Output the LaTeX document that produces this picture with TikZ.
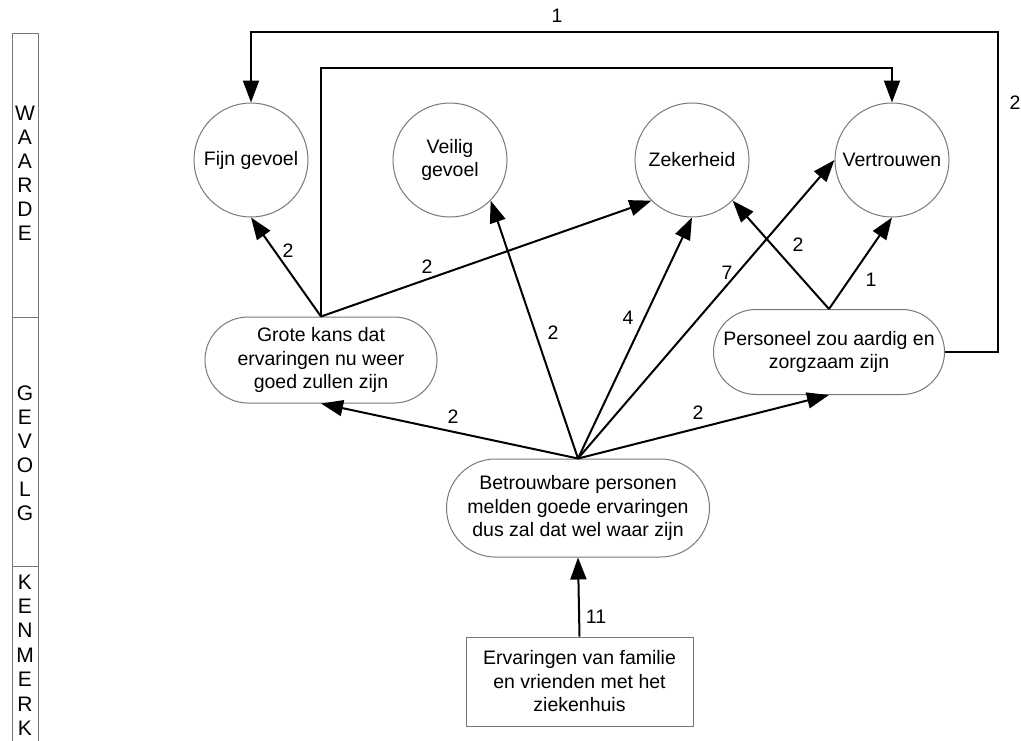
\documentclass[tikz,border=0pt]{standalone}
\usepackage{fontspec}
\setmainfont{Liberation Sans}
\usetikzlibrary{arrows.meta}
\definecolor{outline}{RGB}{120,120,120}
\begin{document}
\begin{tikzpicture}[x=1pt,y=-1pt,
  every node/.style={font=\fontsize{19.5}{23.5}\selectfont},
  value/.style={circle, draw=outline, line width=1pt, minimum size=114pt,
    inner sep=0pt, align=center},
  result/.style={rectangle, draw=outline, line width=1pt, rounded corners=43pt,
    minimum width=232pt, minimum height=86pt, inner sep=0pt, align=center},
  feature/.style={rectangle, draw=outline, line width=1pt,
    minimum width=227pt, minimum height=89pt, inner sep=0pt, align=center},
  link/.style={line width=2pt, -{Triangle[length=22pt,width=16pt]}},
  lbl/.style={inner sep=0pt},
  level/.style={align=center, inner sep=0pt, font=\fontsize{21}{24}\selectfont}]
\useasboundingbox (0,0) rectangle (1021,740);

% level column on the left
\draw[outline, line width=1pt] (12,33) rectangle (38,760);
\draw[outline, line width=1pt] (12,317) -- (38,317);
\draw[outline, line width=1pt] (12,566) -- (38,566);
\node[level] (waarde) at (25,173.5) {W\\A\\A\\R\\D\\E};
\node[level] (gevolg) at (25,453) {G\\E\\V\\O\\L\\G};
\node[level, font=\fontsize{21}{24.4}\selectfont] (kenmerk) at (25,655) {K\\E\\N\\M\\E\\R\\K};

% values
\node[value] (fijn)   at (251,160) {Fijn gevoel};
\node[value] (veilig) at (450,160) {Veilig\\gevoel};
\node[value] (zek)    at (692,160) {Zekerheid};
\node[value] (vert)   at (892,160) {Vertrouwen};

% consequences
\node[result] (grote) at (321,360) {Grote kans dat\\ervaringen nu weer\\goed zullen zijn};
\node[result, minimum width=231pt, minimum height=85pt, rounded corners=42.5pt]
  (pers) at (829,352) {Personeel zou aardig en\\zorgzaam zijn};
\node[result, minimum width=263pt, minimum height=98pt, rounded corners=49pt]
  (betr) at (578,508) {Betrouwbare personen\\melden goede ervaringen\\dus zal dat wel waar zijn};

% attribute
\node[feature] (erv) at (579.5,681.5) {Ervaringen van familie\\en vrienden met het\\ziekenhuis};

% connectors
\coordinate (rightbend) at (998,32);
\coordinate (upperbend) at (600,68);
\draw[link] (pers.east) -| (rightbend) -| (fijn.north);
\draw[link] (grote.north) |- (upperbend) -| (vert.north);
\draw[link] (grote.north) -- (fijn.south);
\draw[link] (grote.north) -- (zek.225);
\draw[link] (betr.north) -- (veilig.-45);
\draw[link] (betr.north) -- (zek.south);
\draw[link] (betr.north) -- (vert.west);
\draw[link] (betr.north) -- (grote.south);
\draw[link] (betr.north) -- (pers.south);
\draw[link] (pers.north) -- (zek.-45);
\draw[link] (pers.north) -- (vert.south);
\draw[link] (erv.north) -- (betr.south);

% connector labels
\node[lbl] (n1)  at (557,16)  {1};
\node[lbl] (n2)  at (1015,103) {2};
\node[lbl] (n3)  at (288,251) {2};
\node[lbl] (n4)  at (427,267) {2};
\node[lbl] (n5)  at (553,333) {2};
\node[lbl] (n6)  at (628,318) {4};
\node[lbl] (n7)  at (727,273) {7};
\node[lbl] (n8)  at (798,245) {2};
\node[lbl] (n9)  at (871,280) {1};
\node[lbl] (n10) at (453,417) {2};
\node[lbl] (n11) at (698,413) {2};
\node[lbl] (n12) at (596,617) {11};
\end{tikzpicture}
\end{document}
